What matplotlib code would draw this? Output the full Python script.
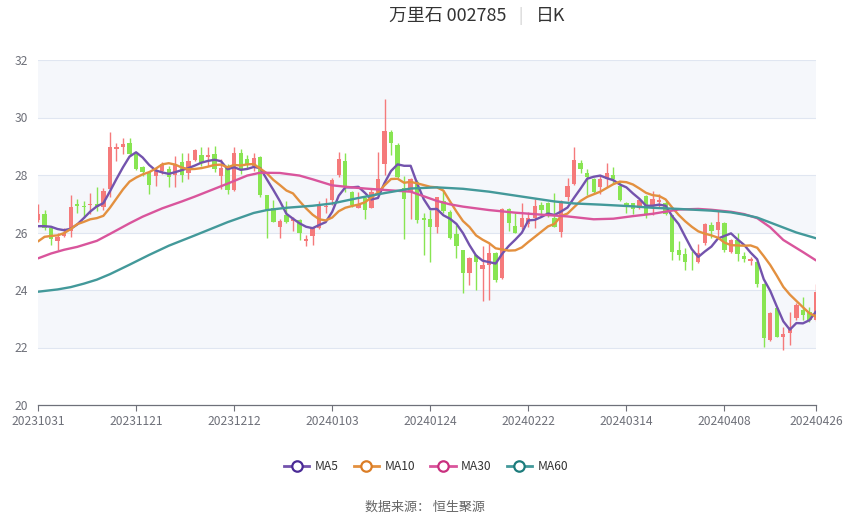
import matplotlib
matplotlib.use('Agg')
import matplotlib.pyplot as plt
from matplotlib.lines import Line2D

plt.rcParams['font.family'] = ['Noto Sans CJK SC', 'DejaVu Sans']

# ---------------- data ----------------
opens = [26.43, 26.64, 26.17, 25.71, 25.88, 26.06, 26.99, 26.93, 26.96, 27.00,
         26.87, 27.51, 28.90, 28.96, 29.13, 28.72, 28.28, 28.09, 27.97, 28.14,
         28.20, 27.99, 28.46, 28.06, 28.53, 28.69, 28.62, 28.72, 27.97, 28.30,
         27.47, 28.75, 28.54, 28.32, 28.62, 27.30, 26.84, 26.18, 26.61, 26.40,
         26.43, 25.72, 25.88, 26.14, 26.90, 27.13, 28.00, 28.49, 27.42, 26.86,
         27.19, 26.84, 27.42, 28.37, 29.51, 29.04, 27.56, 27.42, 27.77, 26.49,
         26.46, 26.18, 27.11, 26.72, 25.95, 25.39, 24.60, 25.22, 24.72, 24.87,
         25.30, 24.41, 26.80, 26.23, 26.20, 26.30, 26.50, 26.96, 27.01, 26.49,
         26.03, 27.25, 27.70, 28.43, 28.06, 27.85, 27.57, 27.85, 28.00, 27.62,
         27.04, 27.02, 26.84, 27.27, 26.95, 27.05, 27.01, 26.61, 25.39, 25.24,
         24.99, 24.96, 25.62, 26.26, 26.09, 26.32, 25.33, 25.74, 25.18, 25.00,
         24.98, 24.21, 22.26, 23.36, 22.38, 22.49, 23.01, 23.30, 23.25, 22.96]
closes = [26.64, 26.17, 25.77, 25.83, 26.00, 26.87, 26.93, 26.87, 27.00, 26.87,
          27.45, 28.98, 28.98, 29.07, 28.72, 28.20, 28.09, 27.66, 28.14, 28.38,
          27.92, 28.40, 28.00, 28.48, 28.87, 28.41, 28.68, 28.20, 28.24, 27.48,
          28.76, 28.20, 28.37, 28.59, 27.30, 26.78, 26.38, 26.40, 26.38, 26.47,
          25.99, 25.76, 26.14, 26.96, 26.93, 27.83, 28.55, 27.59, 26.96, 27.00,
          26.78, 27.42, 27.85, 29.53, 29.10, 27.94, 27.17, 27.85, 26.43, 26.43,
          26.18, 27.22, 26.76, 25.80, 25.53, 24.60, 25.10, 24.98, 24.87, 25.30,
          24.35, 26.80, 26.32, 25.99, 26.49, 26.50, 26.92, 26.80, 26.61, 26.20,
          27.10, 27.62, 28.52, 28.20, 27.92, 27.42, 27.85, 28.08, 27.85, 27.13,
          26.92, 26.81, 27.13, 26.64, 27.15, 27.12, 26.63, 25.33, 25.22, 24.96,
          24.96, 25.28, 26.28, 26.05, 26.38, 25.39, 25.74, 25.25, 25.07, 25.07,
          24.21, 22.32, 23.19, 22.38, 22.47, 22.72, 23.48, 23.13, 22.96, 23.94]
highs = [27.00, 26.78, 26.23, 26.00, 26.17, 27.30, 27.15, 27.08, 27.39, 27.59,
         27.56, 29.48, 29.10, 29.27, 29.30, 28.78, 28.32, 28.15, 28.26, 28.44,
         28.30, 28.65, 28.78, 28.75, 28.90, 28.98, 28.98, 29.00, 28.55, 28.38,
         28.96, 28.90, 28.70, 28.77, 28.65, 27.32, 27.13, 26.48, 27.09, 26.55,
         26.46, 25.91, 26.18, 27.11, 27.20, 27.88, 28.81, 28.75, 27.45, 27.42,
         27.25, 27.50, 28.81, 30.64, 29.57, 29.10, 27.98, 27.88, 27.83, 26.69,
         26.80, 27.25, 27.48, 26.78, 26.26, 25.40, 25.16, 25.25, 25.53, 25.65,
         25.32, 26.84, 26.84, 26.69, 27.04, 26.70, 27.16, 27.07, 27.07, 27.39,
         27.13, 27.90, 28.96, 28.52, 28.20, 27.88, 28.00, 28.41, 28.29, 27.80,
         27.06, 27.04, 27.16, 27.30, 27.45, 27.35, 27.13, 26.61, 25.70, 25.47,
         25.35, 25.59, 26.32, 26.38, 26.75, 26.38, 25.76, 25.97, 25.33, 25.16,
         25.04, 24.23, 23.25, 23.42, 22.72, 23.25, 23.54, 23.77, 23.40, 24.20]
lows = [26.35, 26.08, 25.57, 25.39, 25.83, 25.83, 26.68, 26.50, 26.64, 26.75,
        26.78, 27.22, 28.47, 28.72, 28.67, 28.17, 27.97, 27.33, 27.62, 28.03,
        27.58, 27.60, 27.76, 27.85, 28.50, 28.30, 28.30, 28.10, 27.50, 27.33,
        27.45, 28.05, 28.20, 28.15, 27.22, 25.80, 26.36, 25.80, 26.32, 26.06,
        25.74, 25.53, 25.56, 26.11, 26.69, 26.96, 27.94, 27.42, 26.90, 26.84,
        26.47, 26.84, 27.36, 28.00, 28.70, 27.90, 25.77, 26.46, 26.32, 25.22,
        24.99, 26.00, 26.69, 25.76, 25.10, 23.90, 24.17, 24.00, 23.63, 23.65,
        24.29, 24.37, 26.06, 25.97, 26.11, 26.20, 26.16, 26.61, 26.55, 26.18,
        25.85, 27.10, 27.65, 28.06, 27.30, 27.36, 27.35, 27.57, 27.71, 27.11,
        26.67, 26.64, 26.82, 26.49, 26.60, 26.85, 26.60, 25.04, 25.04, 24.70,
        24.70, 24.93, 25.57, 25.80, 25.80, 25.33, 25.30, 25.02, 24.98, 24.87,
        24.12, 22.03, 22.24, 22.36, 21.91, 22.09, 22.96, 22.96, 22.90, 22.93]

ma5 = [26.22, 26.22, 26.20, 26.12, 26.08, 26.13, 26.28, 26.50, 26.73, 26.91,
       27.02, 27.43, 27.86, 28.27, 28.64, 28.79, 28.61, 28.35, 28.16, 28.09,
       28.04, 28.10, 28.17, 28.24, 28.33, 28.43, 28.49, 28.53, 28.48, 28.20,
       28.27, 28.18, 28.21, 28.28, 28.24, 27.85, 27.48, 27.09, 26.65, 26.48,
       26.32, 26.20, 26.15, 26.26, 26.36, 26.72, 27.28, 27.57, 27.57, 27.59,
       27.38, 27.15, 27.20, 27.72, 28.14, 28.37, 28.32, 28.32, 27.70, 27.16,
       26.81, 26.82, 26.60, 26.48, 26.30, 25.98, 25.56, 25.20, 25.02, 24.97,
       24.92, 25.26, 25.53, 25.75, 25.99, 26.42, 26.44, 26.54, 26.66, 26.61,
       26.73, 26.87, 27.21, 27.53, 27.87, 27.94, 27.98, 27.89, 27.82, 27.67,
       27.57, 27.36, 27.17, 26.93, 26.93, 26.97, 26.93, 26.57, 26.29, 25.85,
       25.42, 25.15, 25.34, 25.51, 25.79, 25.88, 25.97, 25.76, 25.57, 25.30,
       25.07, 24.38, 23.97, 23.43, 22.91, 22.62, 22.85, 22.84, 22.95, 23.25]
ma10 = [25.69, 25.85, 25.88, 25.90, 25.98, 26.12, 26.29, 26.37, 26.46, 26.50,
        26.58, 26.86, 27.18, 27.50, 27.77, 27.91, 28.02, 28.10, 28.22, 28.37,
        28.41, 28.36, 28.26, 28.20, 28.21, 28.24, 28.29, 28.35, 28.36, 28.27,
        28.35, 28.33, 28.37, 28.38, 28.22, 28.06, 27.83, 27.65, 27.46, 27.36,
        27.09, 26.84, 26.62, 26.46, 26.42, 26.52, 26.74, 26.86, 26.92, 26.97,
        27.05, 27.22, 27.39, 27.64, 27.86, 27.87, 27.73, 27.76, 27.71, 27.65,
        27.59, 27.57, 27.46, 27.09, 26.73, 26.40, 26.19, 25.90, 25.75, 25.63,
        25.45, 25.41, 25.37, 25.38, 25.48, 25.67, 25.85, 26.03, 26.21, 26.30,
        26.57, 26.66, 26.88, 27.10, 27.24, 27.33, 27.42, 27.55, 27.68, 27.77,
        27.75, 27.67, 27.53, 27.38, 27.30, 27.27, 27.15, 26.87, 26.61, 26.39,
        26.20, 26.04, 25.96, 25.90, 25.82, 25.65, 25.56, 25.55, 25.54, 25.55,
        25.47, 25.18, 24.87, 24.50, 24.11, 23.84, 23.62, 23.40, 23.19, 23.08]

# slow averages, read at sample candles
ma30_at = [0, 2, 4, 6, 9, 11, 14, 16, 19, 22, 24, 27, 29, 32, 34, 37, 40, 42,
           45, 48, 50, 53, 57, 59, 61, 63, 65, 69, 73, 77, 81, 85, 88, 91, 94,
           98, 101, 103, 106, 108, 110, 112, 114, 117, 119]
ma30 = [25.10, 25.27, 25.40, 25.50, 25.71, 25.95, 26.32, 26.55, 26.84, 27.08,
        27.25, 27.52, 27.70, 27.98, 28.08, 28.07, 27.98, 27.85, 27.64, 27.57,
        27.53, 27.48, 27.42, 27.26, 27.10, 26.98, 26.90, 26.78, 26.69, 26.62,
        26.56, 26.46, 26.48, 26.57, 26.65, 26.80, 26.82, 26.79, 26.72, 26.64,
        26.50, 26.18, 25.74, 25.32, 25.03]
ma60_at = [0, 3, 5, 7, 9, 11, 14, 17, 20, 24, 29, 33, 35, 38, 42, 45, 49, 53,
           57, 61, 65, 69, 74, 79, 82, 86, 91, 94, 98, 103, 106, 108, 110, 113,
           116, 119]
ma60 = [23.94, 24.02, 24.10, 24.22, 24.36, 24.55, 24.88, 25.22, 25.54, 25.90,
        26.36, 26.68, 26.78, 26.86, 26.93, 27.01, 27.20, 27.37, 27.53, 27.57,
        27.52, 27.42, 27.25, 27.08, 27.01, 26.97, 26.91, 26.86, 26.82, 26.76,
        26.70, 26.62, 26.52, 26.26, 26.00, 25.80]

tick_at = [0, 15, 30, 45, 60, 75, 90, 105, 119]
tick_labels = ['20231031', '20231121', '20231212', '20240103', '20240124',
               '20240222', '20240314', '20240408', '20240426']

series_names = ['MA5', 'MA10', 'MA30', 'MA60']
line_colors = ['#7353ad', '#e3903f', '#d9559c', '#43999a']
legend_colors = ['#4a2a96', '#db7d25', '#c9307f', '#1d7c7c']

# ---------------- figure ----------------
W, H = 850, 517
fig = plt.figure(figsize=(W / 100, H / 100), dpi=100)
ax = fig.add_axes([38 / W, 1 - 405 / H, (816 - 38) / W, 345 / H])

ax.set_xlim(0, len(closes) - 1)
ax.set_ylim(20, 32)

# split areas
band_light = '#f5f7fb'
for lo in range(20, 32, 2):
    if (lo // 2) % 2 == 1:
        ax.axhspan(lo, lo + 2, color=band_light, lw=0, zorder=0)
for yv in range(22, 33, 2):
    ax.axhline(yv, color='#e0e6f1', lw=0.8, zorder=0.5)

up_c, dn_c = '#f57a7b', '#88e552'
xs = list(range(len(closes)))
for i in xs:
    o, c, h, l = opens[i], closes[i], highs[i], lows[i]
    col = up_c if c >= o else dn_c
    ax.vlines(i, l, h, color=col, lw=1.0, zorder=2)
    bot = min(o, c)
    hgt = max(abs(c - o), 0.03)
    ax.bar(i, hgt, bottom=bot, width=0.66, color=col, lw=0, zorder=2.5)

kw = dict(lw=1.7, zorder=4, solid_joinstyle='round', solid_capstyle='round')
ax.plot(xs, ma5, color=line_colors[0], **kw)
ax.plot(xs, ma10, color=line_colors[1], **kw)
ax.plot(ma30_at, ma30, color=line_colors[2], **kw)
ax.plot(ma60_at, ma60, color=line_colors[3], **kw)

for s in ['top', 'right', 'left']:
    ax.spines[s].set_visible(False)
ax.spines['bottom'].set_color('#6e7079')
ax.spines['bottom'].set_linewidth(0.9)
ax.spines['bottom'].set_zorder(5)

ax.set_yticks(range(20, 33, 2))
ax.set_yticklabels([str(v) for v in range(20, 33, 2)])
ax.tick_params(axis='y', length=0, pad=7, labelsize=8.7, labelcolor='#6e7079')
ax.set_xticks(tick_at)
ax.set_xticklabels(tick_labels)
ax.tick_params(axis='x', length=4, width=0.8, color='#6e7079', pad=3,
               labelsize=8.7, labelcolor='#6e7079')

# title
ty = 1 - 16 / H
fig.text(506 / W, ty, '万里石 002785', ha='right', va='center', fontsize=12.9, color='#333333')
fig.text(521 / W, ty, '|', ha='center', va='center', fontsize=11, color='#cccccc')
fig.text(536 / W, ty, '日K', ha='left', va='center', fontsize=12.9, color='#333333')

# legend
handles = [Line2D([0], [0], color=line_colors[k], lw=2, marker='o', ms=7.5,
                  mfc='white', mec=legend_colors[k], mew=1.6)
           for k in range(4)]
fig.legend(handles, series_names, loc='center', bbox_to_anchor=(426 / W, 1 - 467 / H),
           ncol=4, frameon=False, handlelength=2.1, handletextpad=0.45,
           columnspacing=1.25, fontsize=8.7, labelcolor='#333333')

fig.text(425 / W, 1 - 507 / H, '数据来源： 恒生聚源', ha='center', va='center',
         fontsize=9.4, color='#666666')

fig.savefig('out.png', dpi=100)
